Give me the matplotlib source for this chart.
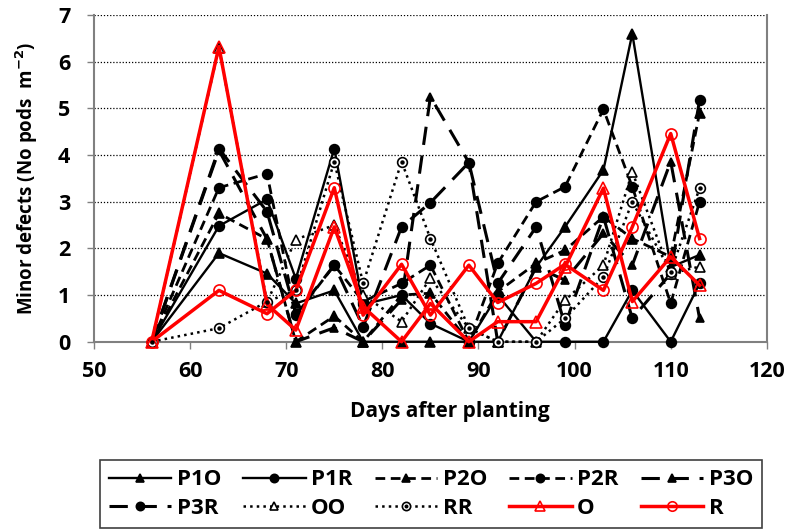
import matplotlib
matplotlib.use("Agg")
import matplotlib.pyplot as plt
from matplotlib.legend_handler import HandlerTuple

days = [56, 63, 68, 71, 75, 78, 82, 85, 89, 92, 96, 99, 103, 106, 110, 113]

P1O = [0, 1.9, 1.46, 0.82, 1.1, 0, 0, 0, 0, 0, 1.6, 2.46, 3.68, 6.6, 1.6, 1.86]
P1R = [0, 2.48, 3.05, 1.35, 4.14, 0.8, 1.0, 0.39, 0, 1.0, 0, 0, 0, 1.1, 0, 1.25]
P2O = [0, 2.75, 2.2, 0, 0.55, 0, 1.0, 1.04, 0, 1.07, 1.68, 1.96, 2.68, 2.21, 1.82, 4.9]
P2R = [0, 3.3, 3.6, 0.57, 1.64, 0.86, 1.25, 1.64, 0, 1.68, 3.0, 3.32, 4.98, 3.32, 0.82, 3.0]
P3O = [0, 4.1, 2.2, 0, 0.3, 0, 0.9, 5.25, 3.84, 0, 1.6, 1.32, 2.32, 1.64, 3.86, 0.5]
P3R = [0, 4.14, 2.79, 0.6, 1.64, 0.32, 2.46, 2.98, 3.84, 1.25, 2.46, 0.36, 2.68, 0.5, 1.46, 5.18]
OO = [0, 6.3, 0.85, 2.19, 2.5, 1.0, 0.43, 1.36, 0.29, 0, 0, 0.89, 1.64, 3.64, 1.46, 1.61]
RR = [0, 0.29, 0.86, 1.1, 3.86, 1.25, 3.86, 2.21, 0.29, 0, 0, 0.5, 1.39, 3.0, 1.5, 3.29]
O = [0, 6.32, 0.8, 0.25, 2.46, 0.75, 0, 0.82, 0, 0.43, 0.43, 1.6, 3.29, 0.86, 1.82, 1.21]
R = [0, 1.1, 0.6, 1.1, 3.3, 0.57, 1.66, 0.57, 1.64, 0.84, 1.25, 1.66, 1.1, 2.46, 4.46, 2.21]

labels = ["P1O", "P1R", "P2O", "P2R", "P3O", "P3R", "OO", "RR", "O", "R"]
series = [P1O, P1R, P2O, P2R, P3O, P3R, OO, RR, O, R]

short_dash = (0, (3.5, 2))
long_dash = (0, (6, 3.5))
styles = [
    dict(color="black", ls="-", lw=1.7, marker="^", ms=7, mfc="black"),
    dict(color="black", ls="-", lw=1.7, marker="o", ms=7, mfc="black"),
    dict(color="black", ls=short_dash, lw=2.0, marker="^", ms=7, mfc="black"),
    dict(color="black", ls=short_dash, lw=2.0, marker="o", ms=7, mfc="black"),
    dict(color="black", ls=long_dash, lw=2.2, marker="^", ms=6, mfc="black"),
    dict(color="black", ls=long_dash, lw=2.2, marker="o", ms=7, mfc="black"),
    dict(color="black", ls=":", lw=1.8, marker="^", ms=7, mfc="white"),
    dict(color="black", ls=":", lw=1.8, marker="o", ms=7, mfc="white"),
    dict(color="#ff0000", ls="-", lw=2.5, marker="^", ms=8, mfc="none"),
    dict(color="#ff0000", ls="-", lw=2.5, marker="o", ms=8, mfc="none"),
]

plt.rcParams['font.family'] = ['Open Sans', 'DejaVu Sans']
plt.rcParams['font.weight'] = 'bold'
plt.rcParams['mathtext.default'] = 'bf'

fig = plt.figure(figsize=(7.87, 5.29), dpi=100)
ax = fig.add_axes([0.1194, 0.354, 0.855, 0.6176])

handles = []
for lab, ys, st in zip(labels, series, styles):
    h, = ax.plot(days, ys, color=st["color"], linestyle=st["ls"], linewidth=st["lw"],
                 marker=st["marker"], markersize=st["ms"], markerfacecolor=st["mfc"],
                 markeredgecolor=st["color"], markeredgewidth=1.2, label=lab,
                 clip_on=False, zorder=3)
    if lab == "RR":
        d, = ax.plot(days, ys, linestyle="none", marker="o", markersize=2.2,
                     color="black", clip_on=False, zorder=3.1)
        h = (h, d)
    handles.append(h)

ax.set_xlim(50, 120)
ax.set_ylim(0, 7)
ax.set_xticks(range(50, 121, 10))
ax.set_yticks(range(0, 8))
ax.yaxis.grid(True, linestyle=(0, (1, 1.5)), color="black", linewidth=0.9)
ax.set_axisbelow(True)
for s in ["left", "bottom", "right"]:
    ax.spines[s].set_color("#808080")
    ax.spines[s].set_linewidth(1.5)
ax.spines["top"].set_visible(False)
ax.tick_params(axis="both", colors="#808080", labelcolor="black", labelsize=15.5, length=5, width=1)
ax.tick_params(axis="x", pad=9)
ax.tick_params(axis="y", pad=12)
for t in ax.get_xticklabels() + ax.get_yticklabels():
    t.set_fontweight("bold")

ax.set_xlabel("Days after planting", fontsize=15, fontweight="bold")
ax.xaxis.set_label_coords((450 - 94) / (767 - 94), -(401 - 341.7) / 326.7)
ax.set_ylabel("Minor defects (No pods  m$^{-2}$)", fontsize=13.5, fontweight="bold")
ax.yaxis.set_label_coords(-(94 - 40) / 673.0, (341.7 - 178) / 326.7)

order = [0, 5, 1, 6, 2, 7, 3, 8, 4, 9]
leg = fig.legend([handles[i] for i in order], [labels[i] for i in order], ncol=5,
                 loc="lower left", bbox_to_anchor=(100 / 787, 1 / 529, 662 / 787, 78 / 529),
                 mode="expand", fancybox=False, framealpha=1, edgecolor="#404040",
                 prop=dict(size=16, weight="bold"), handlelength=2.8, columnspacing=0.8,
                 handletextpad=0.25, borderaxespad=0.0, labelspacing=0.35, markerscale=0.85,
                 handler_map={tuple: HandlerTuple(ndivide=1, pad=0)})
leg.get_frame().set_linewidth(1.2)

fig.savefig("out.png", dpi=100)
